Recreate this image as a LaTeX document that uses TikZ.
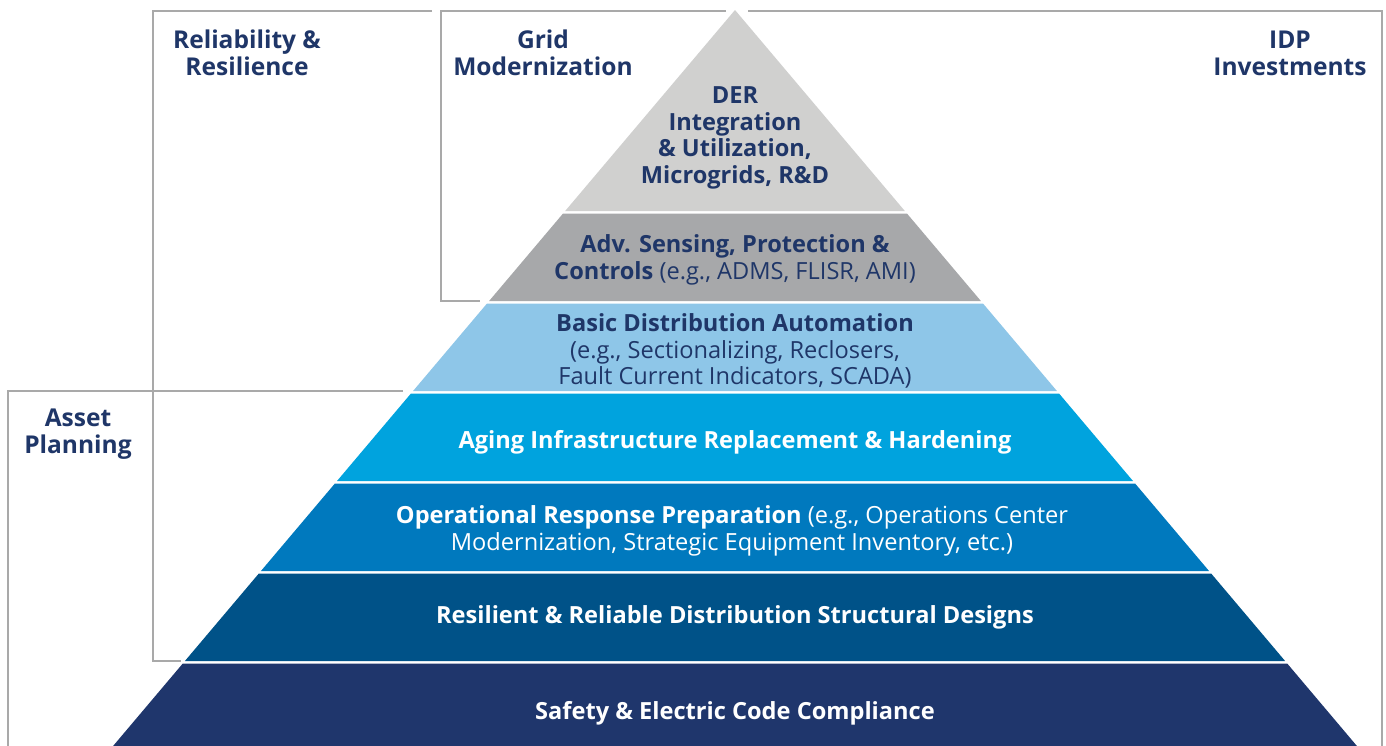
\documentclass[tikz,border=0pt]{standalone}
\usepackage{fontspec}
\setmainfont{Open Sans}
\usepackage{xcolor}
\usepackage{tikz}
\usetikzlibrary{positioning}
\definecolor{navy}{HTML}{1F3668}
\definecolor{framegray}{HTML}{A9A9A9}
\definecolor{tierA}{HTML}{D0D0CF}
\definecolor{tierB}{HTML}{A7A8AA}
\definecolor{tierC}{HTML}{8EC6E8}
\definecolor{tierD}{HTML}{00A3DE}
\definecolor{tierE}{HTML}{0079BE}
\definecolor{tierF}{HTML}{005288}
\definecolor{tierG}{HTML}{1F366C}
\tikzstyle{frameline} = [draw=framegray, line width=1.5pt]
\tikzstyle{head} = [text=navy, font=\fontsize{18.4}{20.2}\selectfont\bfseries, align=center, inner sep=0pt]
\tikzstyle{tier} = [font=\fontsize{17.7}{19.8}\selectfont, align=center, inner sep=0pt]
\tikzstyle{tierbold} = [tier, font=\fontsize{17.7}{19.8}\selectfont\bfseries]
\tikzset{every node/.style={align=center}}

\begin{document}
\begin{tikzpicture}[x=0.75pt, y=-0.75pt]
    \useasboundingbox (0,0) rectangle (1386,746);
    % pyramid tiers
    \foreach \yt/\yb/\col in {10/211/tierA, 213.5/301/tierB, 303.5/391/tierC, 393.5/481/tierD,
                              483.5/571/tierE, 573.5/661/tierF, 663.5/746/tierG} {
        \pgfmathsetmacro{\wt}{0.845*(\yt-10)}
        \pgfmathsetmacro{\wb}{0.845*(\yb-10)}
        \fill[\col] (735-\wt,\yt) -- (735+\wt,\yt) -- (735+\wb,\yb) -- (735-\wb,\yb) -- cycle;
    }
    % brackets
    \draw[frameline] (432,11) -- (153,11) -- (153,661) -- (181,661);
    \draw[frameline] (726,11) -- (441,11) -- (441,301) -- (480,301);
    \draw[frameline] (748,11) -- (1382,11) -- (1382,746);
    \draw[frameline] (403,391) -- (8,391) -- (8,746);

    \node (relhead) [head] at (247,53) {Reliability \&\\Resilience};
    \node (gridhead) [head] at (543,53) {Grid\\Modernization};
    \node (idphead) [head] at (1290,53) {IDP\\Investments};
    \node (assethead) [head] at (78,434) {Asset\\Planning};

    \node (der) [tierbold, text=navy] at (735,138)
        {DER\\Integration\\\& Utilization,\\Microgrids, R\&D};
    \node (sensing) [tier, text=navy] at (735,260)
        {\textbf{Adv. Sensing, Protection \&}\\\textbf{Controls} (e.g., ADMS, FLISR, AMI)};
    \node (basicda) [tier, text=navy] at (735,351)
        {\textbf{Basic Distribution Automation}\\(e.g., Sectionalizing, Reclosers,\\Fault Current Indicators, SCADA)};
    \node (aging) [tierbold, text=white] at (735,442)
        {Aging Infrastructure Replacement \& Hardening};
    \node (opresp) [tier, text=white] at (732,531)
        {\textbf{Operational Response Preparation} (e.g., Operations Center\\Modernization, Strategic Equipment Inventory, etc.)};
    \node (resilient) [tierbold, text=white] at (735,617)
        {Resilient \& Reliable Distribution Structural Designs};
    \node (safety) [tierbold, text=white] at (735,713)
        {Safety \& Electric Code Compliance};
\end{tikzpicture}
\end{document}
